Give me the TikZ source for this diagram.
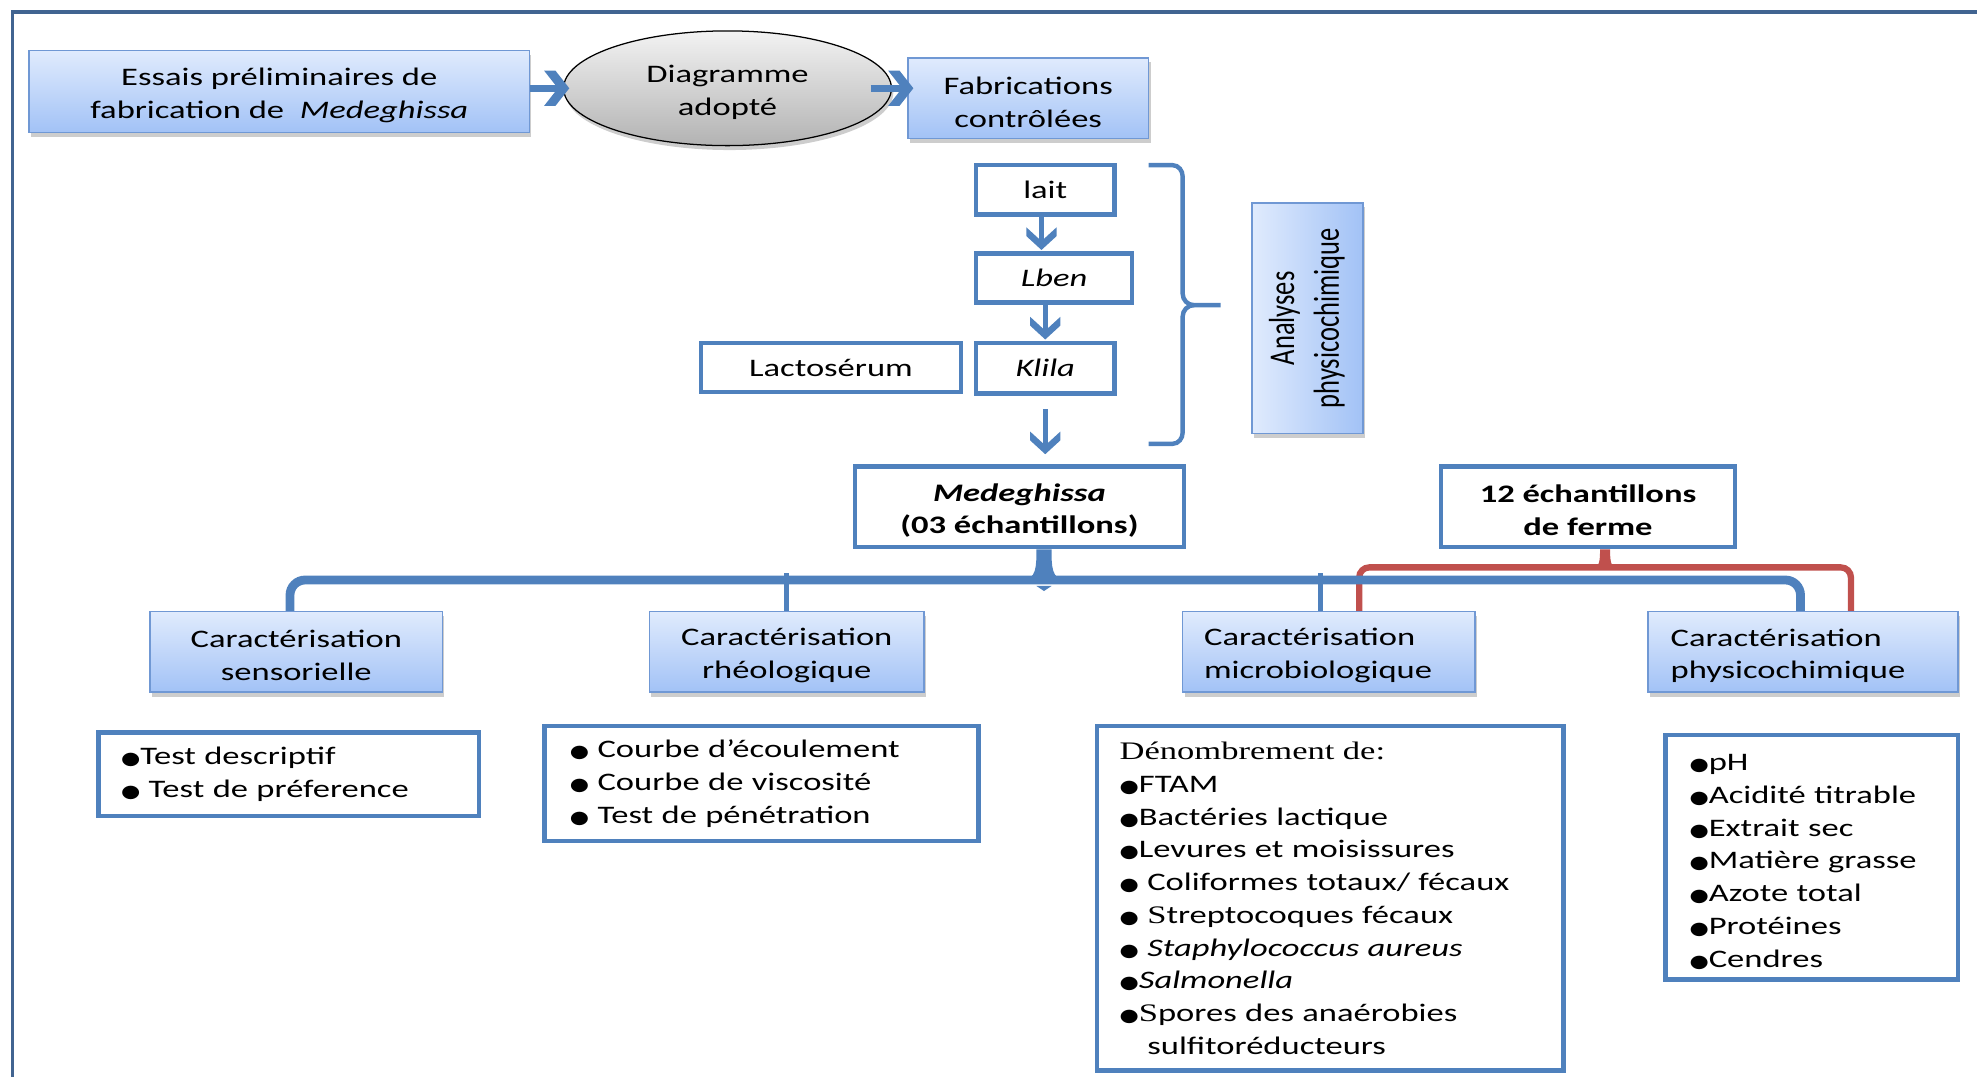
\documentclass[tikz,border=0pt]{standalone}
\usepackage{fontspec}
\usepackage{graphicx}
\setmainfont{Carlito}[FakeStretch=1.37]
\newfontfamily\plainfont{Carlito}
\newfontfamily\seriffont{Liberation Serif}[FakeStretch=1.37]
\newfontfamily\symfont{DejaVu Sans}[FakeStretch=1.25]
\usetikzlibrary{shadows,shapes.geometric}

\definecolor{accent}{RGB}{79,129,189}
\definecolor{framec}{RGB}{65,100,145}
\definecolor{redc}{RGB}{192,80,77}
\definecolor{gradtop}{RGB}{224,235,253}
\definecolor{gradbot}{RGB}{162,194,246}
\definecolor{gradline}{RGB}{112,152,212}

\newcommand\blt{{\symfont\fontsize{14}{26}\selectfont ●}}
\newcommand\lowertext{\rule{0pt}{20pt}}

% filled open chevron heads at a named coordinate: pointing right / pointing down
\newcommand\chevright[1]{\fill[accent] (#1) -- ([shift={(-11pt,14pt)}]#1)
  -- ([shift={(-20pt,14pt)}]#1) -- ([shift={(-9pt,0pt)}]#1)
  -- ([shift={(-20pt,-14pt)}]#1) -- ([shift={(-11pt,-14pt)}]#1) -- cycle;}
\newcommand\chevdown[1]{\fill[accent] (#1) -- ([shift={(12pt,11pt)}]#1)
  -- ([shift={(12pt,18pt)}]#1) -- ([shift={(0pt,7pt)}]#1)
  -- ([shift={(-12pt,18pt)}]#1) -- ([shift={(-12pt,11pt)}]#1) -- cycle;}

\tikzset{
  every node/.style={font=\fontsize{20}{26}\selectfont},
  softshadow/.style={drop shadow={shadow xshift=1.5pt,shadow yshift=-3.5pt,opacity=0.28,fill=black!70}},
  gbox/.style={draw=gradline, line width=1.2pt, top color=gradtop, bottom color=gradbot,
    softshadow, align=center, inner sep=0pt},
  wbox/.style={draw=accent, line width=3.5pt, fill=white, align=center, inner sep=0pt},
  lbox/.style={draw=accent, line width=3.5pt, fill=white, align=left, inner ysep=0pt},
  bigshaft/.style={draw=accent, line width=5.5pt},
  smallshaft/.style={draw=accent, line width=3.8pt},
  treeline/.style={draw=accent, line width=7pt, rounded corners=12pt},
  tickline/.style={draw=accent, line width=4pt},
  redline/.style={draw=redc, line width=5pt, rounded corners=8pt},
  braceline/.style={draw=accent, line width=3.5pt}
}

\begin{document}
\begin{tikzpicture}[x=1pt,y=-1pt]
\useasboundingbox (0,0) rectangle (1568,854);

% outer frame
\draw[framec, line width=3pt] (10,854) -- (10,9.5) -- (1568,9.5);

% top row
\node[gbox, minimum width=397pt, minimum height=65pt] (essais) at (221.5,72.5)
  {\lowertext Essais préliminaires de\\fabrication de\ \ \textit{Medeghissa}};
\node[ellipse, draw=black, line width=1pt, top color=black!5, bottom color=black!30,
  softshadow, minimum width=260pt, minimum height=91pt, inner sep=0pt, align=center]
  (diag) at (577,70) {\lowertext Diagramme\\adopté};
\node[gbox, minimum width=191pt, minimum height=64pt] (fab) at (815.5,78)
  {\lowertext Fabrications\\contrôlées};

\coordinate (tipA) at ([xshift=5pt]diag.west);
\draw[bigshaft] (diag.west -| essais.east) -- ([xshift=-9pt]tipA);
\chevright{tipA}
\coordinate (tipB) at ([xshift=5pt]diag.east -| fab.west);
\draw[bigshaft] ([xshift=-17pt]diag.east) -- ([xshift=-9pt]tipB);
\chevright{tipB}

% production chain
\node[wbox, minimum width=110pt, minimum height=39pt] (lait) at (829,150.5) {lait};
\node[wbox, minimum width=124pt, minimum height=39pt] (lben) at (836,220.5) {\textit{Lben}};
\node[wbox, minimum width=110pt, minimum height=40pt] (klila) at (829,292) {\textit{Klila}};
\node[wbox, minimum width=206pt, minimum height=39pt] (lacto) at (659,291.5) {Lactosérum};
\node[wbox, minimum width=261pt, minimum height=64pt] (med) at (808.5,402)
  {\lowertext\textbf{\textit{Medeghissa}}\\\textbf{(03 échantillons)}};
\node[wbox, minimum width=233pt, minimum height=64pt] (ech) at (1259.5,402)
  {\lowertext\textbf{12 échantillons}\\\textbf{de ferme}};

\coordinate (tipC) at ([xshift=-3pt,yshift=1pt]lait.south |- lben.north);
\draw[smallshaft] ([xshift=-3pt]lait.south) -- ([yshift=7pt]tipC);
\chevdown{tipC}
\coordinate (tipD) at ([yshift=1pt]klila.north);
\draw[smallshaft] (klila.north |- lben.south) -- ([yshift=7pt]tipD);
\chevdown{tipD}
\coordinate (tipE) at ([yshift=8pt]klila.south |- med.north);
\draw[smallshaft] ([yshift=-11pt]klila.south) -- ([yshift=7pt]tipE);
\chevdown{tipE}

% brace grouping the chain
\draw[braceline] (911,131) -- (930,131) to[out=0,in=90] (938,140) -- (938,233)
  to[out=270,in=180] (947,242) -- (968,242);
\draw[braceline] (947,242) to[out=180,in=90] (938,251) -- (938,343)
  to[out=270,in=0] (930,352) -- (911,352);

\node[draw=gradline, line width=1.2pt, left color=gradtop, right color=gradbot, softshadow,
  minimum width=88pt, minimum height=183pt, inner sep=0pt] (analyses) at (1037,252.5) {};
\node[rotate=90, inner sep=0pt] (analysestxt) at (analyses.center)
  {\scalebox{1}[1.37]{\plainfont\fontsize{21}{26}\selectfont
   \begin{tabular}{@{}c@{}}Analyses\\physicochimique\end{tabular}}};

% characterisation boxes
\node[gbox, minimum width=232pt, minimum height=64pt] (cs) at (235,517)
  {\lowertext Caractérisation\\sensorielle};
\node[gbox, minimum width=218pt, minimum height=64pt] (cr) at (624,517)
  {\lowertext Caractérisation\\rhéologique};
\node[gbox, minimum width=232pt, minimum height=64pt, align=left, text width=198pt,
  inner xsep=17pt] (cm) at (1054,517) {\lowertext Caractérisation\\microbiologique};
\node[gbox, minimum width=246pt, minimum height=64pt, align=left, text width=210pt,
  inner xsep=18pt] (cp) at (1430,517) {\lowertext Caractérisation\\physicochimique};

% farm samples bracket
\draw[redline] ([xshift=24pt]cm.north) -- ([xshift=24pt]cm.north |- 0,450)
  -- ([xshift=38pt]cp.north |- 0,450) -- ([xshift=38pt]cp.north);
\coordinate (echtip) at ([xshift=13.5pt]ech.south);
\fill[redc] ([xshift=-11pt,yshift=-16pt]echtip) .. controls ([xshift=-4pt,yshift=-15pt]echtip)
  and ([xshift=-4pt,yshift=-8pt]echtip) .. ([xshift=-4pt]echtip) -- ([xshift=4pt]echtip)
  .. controls ([xshift=4pt,yshift=-8pt]echtip) and ([xshift=4pt,yshift=-15pt]echtip)
  .. ([xshift=11pt,yshift=-16pt]echtip) -- cycle;

% sample tree
\draw[treeline] ([xshift=-5pt]cs.north) -- ([xshift=-5pt]cs.north |- 0,460)
  -- ([xshift=-2pt]cp.north |- 0,460) -- ([xshift=-2pt]cp.north);
\draw[tickline] (cr.north) -- ++(0,-30);
\draw[tickline] ([xshift=-7pt]cm.north) -- ++(0,-30);
\coordinate (medtip) at ([xshift=19.5pt]med.south);
\fill[accent] ([xshift=-17pt,yshift=-25pt]medtip) .. controls ([xshift=-6pt,yshift=-23pt]medtip)
  and ([xshift=-6pt,yshift=-14pt]medtip) .. ([xshift=-6pt]medtip) -- ([xshift=6pt]medtip)
  .. controls ([xshift=6pt,yshift=-14pt]medtip) and ([xshift=6pt,yshift=-23pt]medtip)
  .. ([xshift=17pt,yshift=-25pt]medtip) -- cycle;
\fill[accent] ([xshift=-6pt,yshift=-29pt]medtip) -- ([xshift=0pt,yshift=-33pt]medtip)
  -- ([xshift=6pt,yshift=-29pt]medtip) -- cycle;

% lists
\node[lbox, minimum height=66pt, text width=266pt, inner xsep=18pt] (l1) at (229,614)
  {\blt Test descriptif\\\blt\ Test de préference};
\node[lbox, minimum height=91pt, text width=304pt, inner xsep=20pt] (l2) at (604,621.5)
  {\blt\ Courbe d’écoulement\\\blt\ Courbe de viscosité\\\blt\ Test de pénétration};
\node[lbox, minimum height=273pt, text width=334pt, inner xsep=18pt] (l3) at (1055,712.5)
  {{\seriffont Dénombrement de:}\\
   \blt FTAM\\
   \blt Bactéries lactique\\
   \blt Levures et moisissures\\
   \blt\ Coliformes totaux/ fécaux\\
   \blt\ {\seriffont S}treptocoques fécaux\\
   \blt\ \textit{Staphylococcus aureus}\\
   \blt\textit{Salmonella}\\
   \blt{\seriffont S}pores des anaérobies\\
   \hspace*{22pt}sulfitoréducteurs};
\node[lbox, minimum height=194pt, text width=194pt, inner xsep=19pt] (l4) at (1437,680)
  {\lowertext\blt pH\\\blt Acidité titrable\\\blt Extrait sec\\\blt Matière grasse\\
   \blt Azote total\\\blt Protéines\\\blt Cendres};
\end{tikzpicture}
\end{document}
